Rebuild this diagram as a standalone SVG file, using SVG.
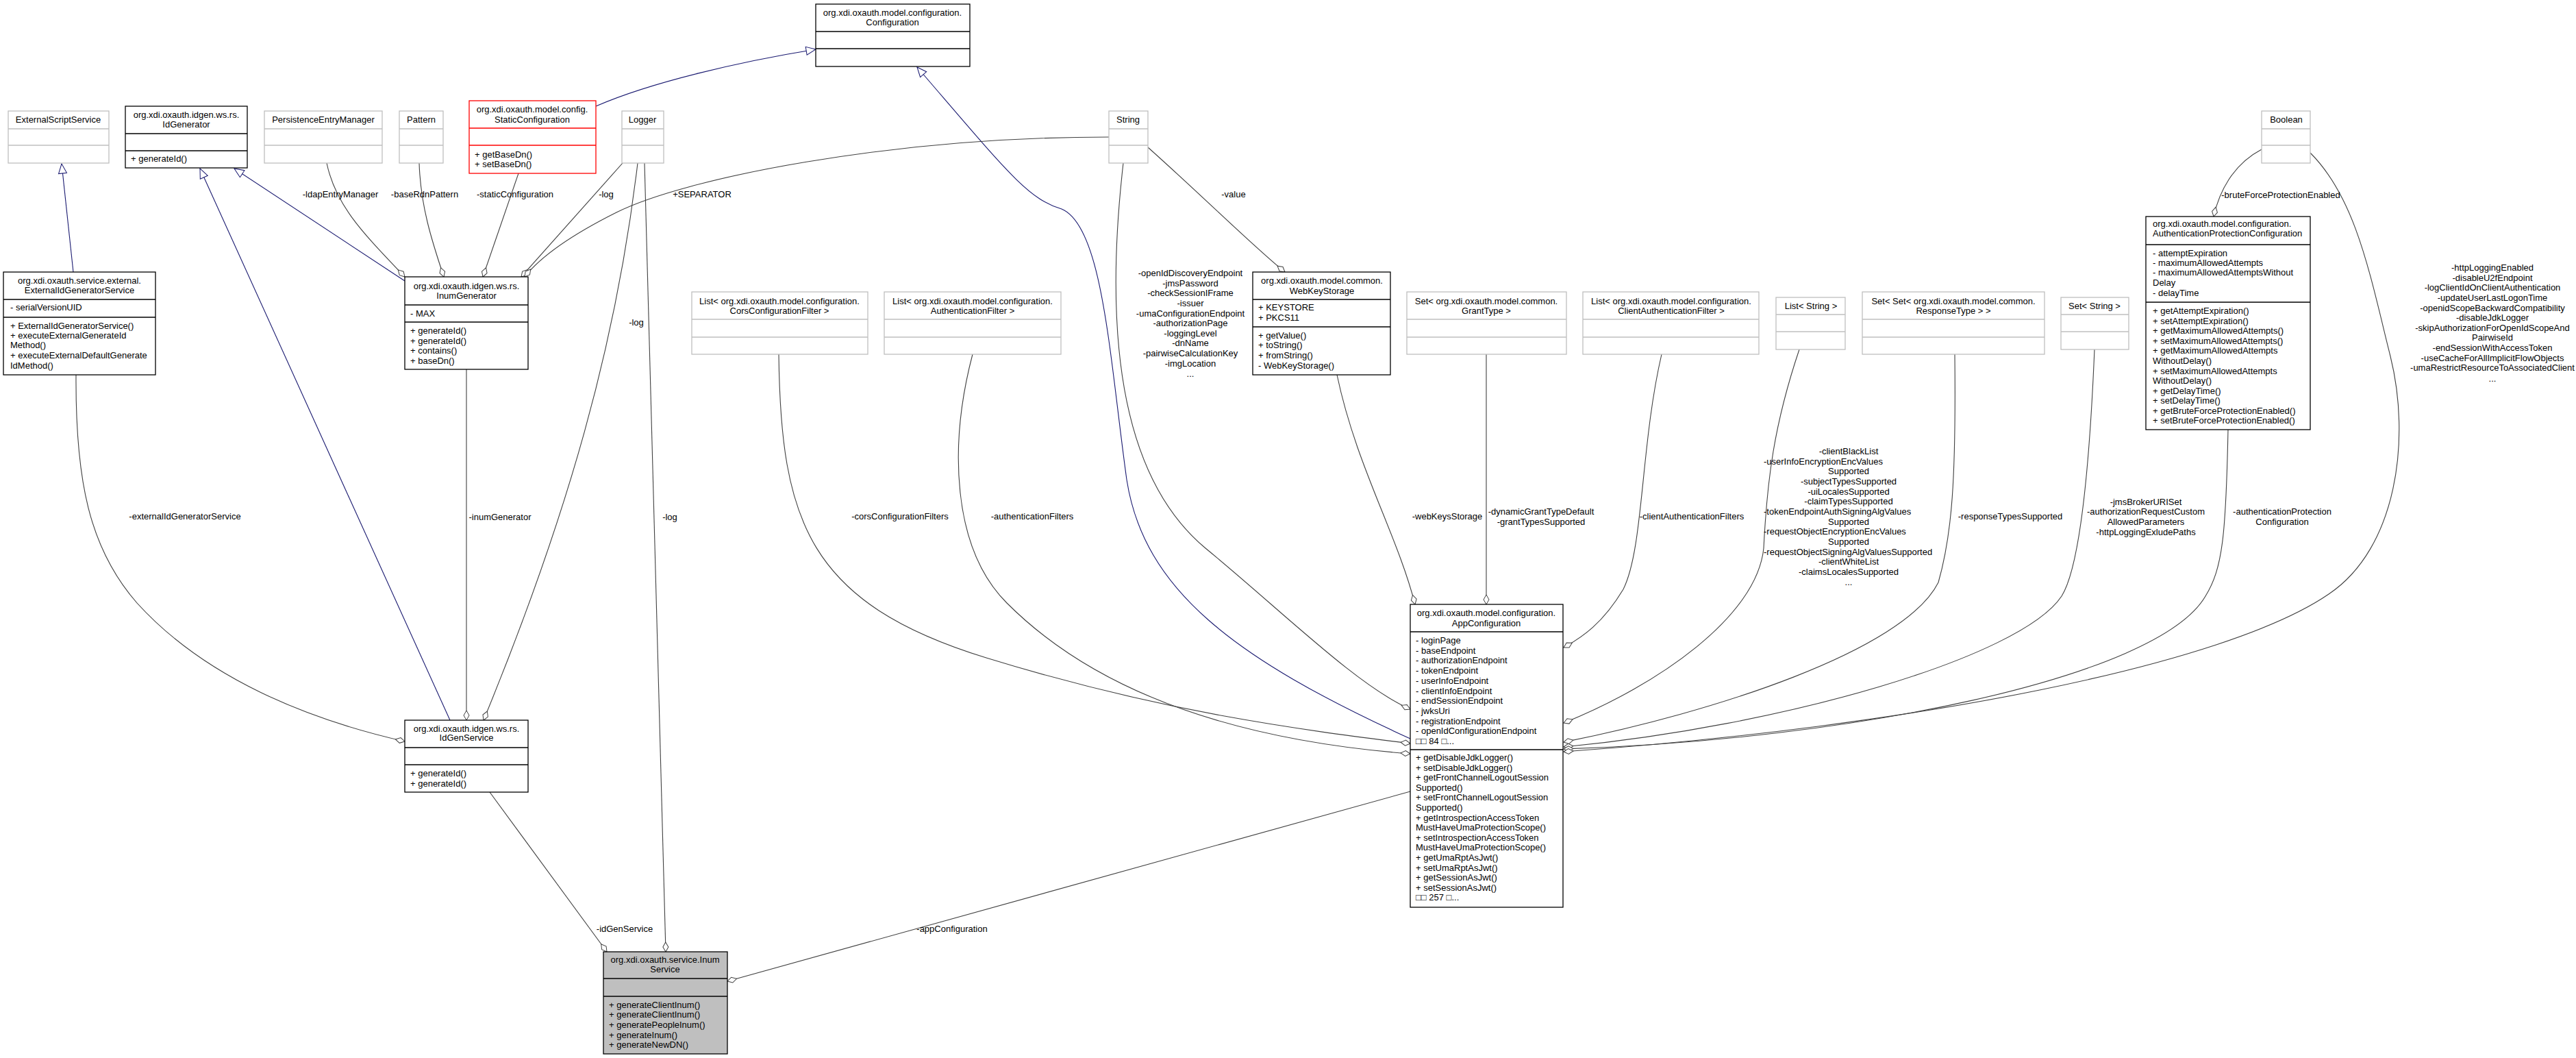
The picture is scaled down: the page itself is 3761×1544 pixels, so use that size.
<svg xmlns="http://www.w3.org/2000/svg" width="3761" height="1544" viewBox="0 0 3761 1544">
<style>
text{font-family:"Liberation Sans",Arial,sans-serif;font-size:13px;fill:#000}
.c{text-anchor:middle}
.b{fill:#fff;stroke:#000;stroke-width:1.3}
.g{fill:#fff;stroke:#bfbfbf;stroke-width:1.3}
.r{fill:#fff;stroke:#ff0000;stroke-width:1.3}
.d{stroke:#000;stroke-width:1.3}
.dg{stroke:#bfbfbf;stroke-width:1.3}
.dr{stroke:#ff0000;stroke-width:1.3}
.e{fill:none;stroke:#404040;stroke-width:1.1;marker-end:url(#dia)}
.i{fill:none;stroke:#191970;stroke-width:1.1;marker-end:url(#tri)}
</style>
<defs>
<marker id="dia" viewBox="-15 -6 16 12" refX="0" refY="0" markerWidth="16" markerHeight="12" markerUnits="userSpaceOnUse" orient="auto"><path d="M0,0 L-7,-4 L-14,0 L-7,4 Z" fill="#fff" stroke="#404040" stroke-width="1"/></marker>
<marker id="tri" viewBox="-15 -8 16 16" refX="0" refY="0" markerWidth="16" markerHeight="16" markerUnits="userSpaceOnUse" orient="auto"><path d="M0,0 L-14,-6 L-14,6 Z" fill="#fff" stroke="#191970" stroke-width="1"/></marker>
</defs>
<rect width="3761" height="1544" fill="#fff"/>
<g id="connectors">
<path class="i" d="M107,397 L90,239"/>
<path class="i" d="M657,1051 L292,246"/>
<path class="i" d="M591,410 L342,246"/>
<path class="i" d="M870,155 C950,120 1080,90 1191,72"/>
<path class="i" d="M2059,1078 C1800,960 1670,860 1645,700 C1620,520 1610,330 1550,305 C1500,290 1470,250 1339,98"/>
<path class="e" d="M477,238 C490,300 530,340 591,404"/>
<path class="e" d="M612,238 C614,300 630,350 648,404"/>
<path class="e" d="M757,253 L705,404"/>
<path class="e" d="M909,238 L761,404"/>
<path class="e" d="M1619,200 C1300,200 1000,260 900,310 C820,350 785,380 766,404"/>
<path class="e" d="M931,238 C900,500 830,750 706,1051"/>
<path class="e" d="M941,238 C950,500 962,900 972,1389"/>
<path class="e" d="M681,539 L681,1051"/>
<path class="e" d="M111,547 C110,700 130,800 200,880 C300,990 450,1050 591,1082"/>
<path class="e" d="M715,1156 L886,1389"/>
<path class="e" d="M2059,1155 L1062,1432"/>
<path class="e" d="M1676,215 C1760,290 1830,360 1876,397"/>
<path class="e" d="M1640,238 C1610,500 1640,700 1760,800 C1870,890 1980,1000 2059,1035"/>
<path class="e" d="M1137,517 C1140,760 1180,880 1440,960 C1700,1040 1900,1065 2059,1085"/>
<path class="e" d="M1420,517 C1385,650 1390,800 1470,880 C1600,1010 1800,1080 2059,1100"/>
<path class="e" d="M1952,547 C1980,680 2040,780 2066,882"/>
<path class="e" d="M2170,517 L2170,882"/>
<path class="e" d="M2426,517 C2395,650 2400,800 2370,860 C2340,910 2310,930 2283,945"/>
<path class="e" d="M2627,510 C2590,620 2580,700 2575,800 C2565,900 2420,1000 2283,1055"/>
<path class="e" d="M2854,517 C2856,700 2850,780 2830,850 C2780,950 2500,1040 2283,1083"/>
<path class="e" d="M3058,510 C3050,700 3035,830 3010,870 C2950,960 2600,1060 2283,1090"/>
<path class="e" d="M3253,627 C3250,780 3245,830 3220,870 C3150,990 2700,1080 2283,1093"/>
<path class="e" d="M3373,223 C3440,290 3460,400 3490,520 C3520,640 3500,800 3400,867 C3250,970 2800,1060 2283,1097"/>
<path class="e" d="M3302,218 C3260,240 3240,280 3232,316"/>
<text x="497" y="288" class="c">-ldapEntryManager</text>
<text x="620" y="288" class="c">-baseRdnPattern</text>
<text x="752" y="288" class="c">-staticConfiguration</text>
<text x="885" y="288" class="c">-log</text>
<text x="1025" y="288" class="c">+SEPARATOR</text>
<text x="929" y="475" class="c">-log</text>
<text x="978" y="759" class="c">-log</text>
<text x="730" y="759" class="c">-inumGenerator</text>
<text x="270" y="758" class="c">-externalIdGeneratorService</text>
<text x="912" y="1360" class="c">-idGenService</text>
<text x="1390" y="1360" class="c">-appConfiguration</text>
<text x="1801" y="288" class="c">-value</text>
<text x="1314" y="758" class="c">-corsConfigurationFilters</text>
<text x="1507" y="758" class="c">-authenticationFilters</text>
<text x="2113" y="758" class="c">-webKeysStorage</text>
<text x="2250" y="751" class="c">-dynamicGrantTypeDefault</text>
<text x="2250" y="766" class="c">-grantTypesSupported</text>
<text x="2470" y="758" class="c">-clientAuthenticationFilters</text>
<text x="2935" y="758" class="c">-responseTypesSupported</text>
<text x="3332" y="751" class="c">-authenticationProtection</text>
<text x="3332" y="766" class="c">Configuration</text>
<text x="3330" y="289" class="c">-bruteForceProtectionEnabled</text>
<g class="c">
<text x="1738" y="403">-openIdDiscoveryEndpoint</text>
<text x="1738" y="418">-jmsPassword</text>
<text x="1738" y="432">-checkSessionIFrame</text>
<text x="1738" y="447">-issuer</text>
<text x="1738" y="462">-umaConfigurationEndpoint</text>
<text x="1738" y="476">-authorizationPage</text>
<text x="1738" y="491">-loggingLevel</text>
<text x="1738" y="505">-dnName</text>
<text x="1738" y="520">-pairwiseCalculationKey</text>
<text x="1738" y="535">-imgLocation</text>
<text x="1738" y="550">...</text>
</g>
<g>
<text x="2699" y="663" class="c">-clientBlackList</text>
<text x="2575" y="678">-userInfoEncryptionEncValues</text>
<text x="2699" y="692" class="c">Supported</text>
<text x="2699" y="707" class="c">-subjectTypesSupported</text>
<text x="2699" y="722" class="c">-uiLocalesSupported</text>
<text x="2699" y="736" class="c">-claimTypesSupported</text>
<text x="2575" y="751">-tokenEndpointAuthSigningAlgValues</text>
<text x="2699" y="766" class="c">Supported</text>
<text x="2575" y="780">-requestObjectEncryptionEncValues</text>
<text x="2699" y="795" class="c">Supported</text>
<text x="2575" y="810">-requestObjectSigningAlgValuesSupported</text>
<text x="2699" y="824" class="c">-clientWhiteList</text>
<text x="2699" y="839" class="c">-claimsLocalesSupported</text>
<text x="2699" y="854" class="c">...</text>
</g>
<g class="c">
<text x="3133" y="737">-jmsBrokerURISet</text>
<text x="3133" y="751">-authorizationRequestCustom</text>
<text x="3133" y="766">AllowedParameters</text>
<text x="3133" y="781">-httpLoggingExludePaths</text>
</g>
<g class="c">
<text x="3639" y="395">-httpLoggingEnabled</text>
<text x="3639" y="410">-disableU2fEndpoint</text>
<text x="3639" y="424">-logClientIdOnClientAuthentication</text>
<text x="3639" y="439">-updateUserLastLogonTime</text>
<text x="3639" y="454">-openidScopeBackwardCompatibility</text>
<text x="3639" y="468">-disableJdkLogger</text>
<text x="3639" y="483">-skipAuthorizationForOpenIdScopeAnd</text>
<text x="3639" y="497">PairwiseId</text>
<text x="3639" y="512">-endSessionWithAccessToken</text>
<text x="3639" y="527">-useCacheForAllImplicitFlowObjects</text>
<text x="3639" y="541">-umaRestrictResourceToAssociatedClient</text>
<text x="3639" y="557">...</text>
</g>
</g>
<g id="ExternalScriptService"><rect class="g" x="12" y="162" width="147" height="76"/><line class="dg" x1="12" y1="188" x2="159" y2="188"/><line class="dg" x1="12" y1="212" x2="159" y2="212"/><text x="85" y="179" class="c">ExternalScriptService</text></g>
<g id="IdGenerator"><rect class="b" x="183" y="155" width="178" height="90"/><line class="d" x1="183" y1="195" x2="361" y2="195"/><line class="d" x1="183" y1="220" x2="361" y2="220"/><text x="272" y="172" class="c">org.xdi.oxauth.idgen.ws.rs.</text><text x="272" y="186" class="c">IdGenerator</text><text x="191" y="236">+ generateId()</text></g>
<g id="PersistenceEntryManager"><rect class="g" x="386" y="162" width="172" height="76"/><line class="dg" x1="386" y1="188" x2="558" y2="188"/><line class="dg" x1="386" y1="212" x2="558" y2="212"/><text x="472" y="179" class="c">PersistenceEntryManager</text></g>
<g id="Pattern"><rect class="g" x="583" y="162" width="64" height="76"/><line class="dg" x1="583" y1="188" x2="647" y2="188"/><line class="dg" x1="583" y1="212" x2="647" y2="212"/><text x="615" y="179" class="c">Pattern</text></g>
<g id="StaticConfiguration"><rect class="r" x="685" y="147" width="185" height="106"/><line class="dr" x1="685" y1="187" x2="870" y2="187"/><line class="dr" x1="685" y1="212" x2="870" y2="212"/><text x="777" y="164" class="c">org.xdi.oxauth.model.config.</text><text x="777" y="179" class="c">StaticConfiguration</text><text x="693" y="230">+ getBaseDn()</text><text x="693" y="244">+ setBaseDn()</text></g>
<g id="Logger"><rect class="g" x="908" y="162" width="61" height="76"/><line class="dg" x1="908" y1="188" x2="969" y2="188"/><line class="dg" x1="908" y1="212" x2="969" y2="212"/><text x="938" y="179" class="c">Logger</text></g>
<g id="Configuration"><rect class="b" x="1191" y="6" width="225" height="91"/><line class="d" x1="1191" y1="46" x2="1416" y2="46"/><line class="d" x1="1191" y1="71" x2="1416" y2="71"/><text x="1303" y="23" class="c">org.xdi.oxauth.model.configuration.</text><text x="1303" y="37" class="c">Configuration</text></g>
<g id="String"><rect class="g" x="1619" y="162" width="57" height="76"/><line class="dg" x1="1619" y1="188" x2="1676" y2="188"/><line class="dg" x1="1619" y1="212" x2="1676" y2="212"/><text x="1647" y="179" class="c">String</text></g>
<g id="ExternalIdGeneratorService"><rect class="b" x="5" y="397" width="222" height="150"/><line class="d" x1="5" y1="437" x2="227" y2="437"/><line class="d" x1="5" y1="463" x2="227" y2="463"/><text x="116" y="414" class="c">org.xdi.oxauth.service.external.</text><text x="116" y="428" class="c">ExternalIdGeneratorService</text><text x="15" y="453">- serialVersionUID</text><text x="15" y="480">+ ExternalIdGeneratorService()</text><text x="15" y="494">+ executeExternalGenerateId</text><text x="15" y="508">Method()</text><text x="15" y="523">+ executeExternalDefaultGenerate</text><text x="15" y="538">IdMethod()</text></g>
<g id="InumGenerator"><rect class="b" x="591" y="404" width="180" height="135"/><line class="d" x1="591" y1="445" x2="771" y2="445"/><line class="d" x1="591" y1="470" x2="771" y2="470"/><text x="681" y="422" class="c">org.xdi.oxauth.idgen.ws.rs.</text><text x="681" y="436" class="c">InumGenerator</text><text x="599" y="462">- MAX</text><text x="599" y="487">+ generateId()</text><text x="599" y="502">+ generateId()</text><text x="599" y="516">+ contains()</text><text x="599" y="531">+ baseDn()</text></g>
<g id="IdGenService"><rect class="b" x="591" y="1051" width="180" height="105"/><line class="d" x1="591" y1="1091" x2="771" y2="1091"/><line class="d" x1="591" y1="1116" x2="771" y2="1116"/><text x="681" y="1068" class="c">org.xdi.oxauth.idgen.ws.rs.</text><text x="681" y="1081" class="c">IdGenService</text><text x="599" y="1133">+ generateId()</text><text x="599" y="1148">+ generateId()</text></g>
<g id="InumService"><rect x="881" y="1389" width="181" height="149" fill="#bfbfbf" stroke="#000" stroke-width="1.3"/><line class="d" x1="881" y1="1428" x2="1062" y2="1428"/><line class="d" x1="881" y1="1454" x2="1062" y2="1454"/><text x="971" y="1405" class="c">org.xdi.oxauth.service.Inum</text><text x="971" y="1419" class="c">Service</text><text x="889" y="1471">+ generateClientInum()</text><text x="889" y="1485">+ generateClientInum()</text><text x="889" y="1500">+ generatePeopleInum()</text><text x="889" y="1515">+ generateInum()</text><text x="889" y="1529">+ generateNewDN()</text></g>
<g id="CorsConfigurationFilterList"><rect class="g" x="1010" y="426" width="257" height="91"/><line class="dg" x1="1010" y1="466" x2="1267" y2="466"/><line class="dg" x1="1010" y1="492" x2="1267" y2="492"/><text x="1138" y="444" class="c">List&lt; org.xdi.oxauth.model.configuration.</text><text x="1138" y="458" class="c">CorsConfigurationFilter &gt;</text></g>
<g id="AuthenticationFilterList"><rect class="g" x="1291" y="426" width="258" height="91"/><line class="dg" x1="1291" y1="466" x2="1549" y2="466"/><line class="dg" x1="1291" y1="492" x2="1549" y2="492"/><text x="1420" y="444" class="c">List&lt; org.xdi.oxauth.model.configuration.</text><text x="1420" y="458" class="c">AuthenticationFilter &gt;</text></g>
<g id="WebKeyStorage"><rect class="b" x="1829" y="397" width="201" height="150"/><line class="d" x1="1829" y1="437" x2="2030" y2="437"/><line class="d" x1="1829" y1="477" x2="2030" y2="477"/><text x="1930" y="414" class="c">org.xdi.oxauth.model.common.</text><text x="1930" y="429" class="c">WebKeyStorage</text><text x="1837" y="453">+ KEYSTORE</text><text x="1837" y="468">+ PKCS11</text><text x="1837" y="494">+ getValue()</text><text x="1837" y="508">+ toString()</text><text x="1837" y="523">+ fromString()</text><text x="1837" y="538">- WebKeyStorage()</text></g>
<g id="GrantTypeSet"><rect class="g" x="2054" y="426" width="233" height="91"/><line class="dg" x1="2054" y1="466" x2="2287" y2="466"/><line class="dg" x1="2054" y1="492" x2="2287" y2="492"/><text x="2170" y="444" class="c">Set&lt; org.xdi.oxauth.model.common.</text><text x="2170" y="458" class="c">GrantType &gt;</text></g>
<g id="ClientAuthenticationFilterList"><rect class="g" x="2311" y="426" width="257" height="91"/><line class="dg" x1="2311" y1="466" x2="2568" y2="466"/><line class="dg" x1="2311" y1="492" x2="2568" y2="492"/><text x="2440" y="444" class="c">List&lt; org.xdi.oxauth.model.configuration.</text><text x="2440" y="458" class="c">ClientAuthenticationFilter &gt;</text></g>
<g id="ListString"><rect class="g" x="2593" y="434" width="101" height="76"/><line class="dg" x1="2593" y1="459" x2="2694" y2="459"/><line class="dg" x1="2593" y1="484" x2="2694" y2="484"/><text x="2644" y="451" class="c">List&lt; String &gt;</text></g>
<g id="ResponseTypeSetSet"><rect class="g" x="2719" y="426" width="266" height="91"/><line class="dg" x1="2719" y1="466" x2="2985" y2="466"/><line class="dg" x1="2719" y1="492" x2="2985" y2="492"/><text x="2852" y="444" class="c">Set&lt; Set&lt; org.xdi.oxauth.model.common.</text><text x="2852" y="458" class="c">ResponseType &gt; &gt;</text></g>
<g id="SetString"><rect class="g" x="3009" y="434" width="99" height="76"/><line class="dg" x1="3009" y1="459" x2="3108" y2="459"/><line class="dg" x1="3009" y1="484" x2="3108" y2="484"/><text x="3058" y="451" class="c">Set&lt; String &gt;</text></g>
<g id="Boolean"><rect class="g" x="3302" y="162" width="71" height="76"/><line class="dg" x1="3302" y1="188" x2="3373" y2="188"/><line class="dg" x1="3302" y1="212" x2="3373" y2="212"/><text x="3338" y="179" class="c">Boolean</text></g>
<g id="AuthenticationProtectionConfiguration"><rect class="b" x="3133" y="316" width="240" height="311"/><line class="d" x1="3133" y1="357" x2="3373" y2="357"/><line class="d" x1="3133" y1="441" x2="3373" y2="441"/>
<text x="3143" y="331">org.xdi.oxauth.model.configuration.</text><text x="3143" y="345">AuthenticationProtectionConfiguration</text>
<text x="3143" y="374">- attemptExpiration</text><text x="3143" y="388">- maximumAllowedAttempts</text><text x="3143" y="402">- maximumAllowedAttemptsWithout</text><text x="3143" y="417">Delay</text><text x="3143" y="432">- delayTime</text>
<text x="3143" y="458">+ getAttemptExpiration()</text><text x="3143" y="472.5">+ setAttemptExpiration()</text><text x="3143" y="487">+ getMaximumAllowedAttempts()</text><text x="3143" y="501.5">+ setMaximumAllowedAttempts()</text><text x="3143" y="516">+ getMaximumAllowedAttempts</text><text x="3143" y="531">WithoutDelay()</text><text x="3143" y="545.5">+ setMaximumAllowedAttempts</text><text x="3143" y="560">WithoutDelay()</text><text x="3143" y="574.5">+ getDelayTime()</text><text x="3143" y="589">+ setDelayTime()</text><text x="3143" y="603.5">+ getBruteForceProtectionEnabled()</text><text x="3143" y="618">+ setBruteForceProtectionEnabled()</text></g>
<g id="AppConfiguration"><rect class="b" x="2059" y="882" width="223" height="442"/><line class="d" x1="2059" y1="922" x2="2282" y2="922"/><line class="d" x1="2059" y1="1094" x2="2282" y2="1094"/>
<text x="2170" y="899" class="c">org.xdi.oxauth.model.configuration.</text><text x="2170" y="914" class="c">AppConfiguration</text>
<text x="2067" y="939">- loginPage</text><text x="2067" y="953.7">- baseEndpoint</text><text x="2067" y="968.4">- authorizationEndpoint</text><text x="2067" y="983.1">- tokenEndpoint</text><text x="2067" y="997.8">- userInfoEndpoint</text><text x="2067" y="1012.5">- clientInfoEndpoint</text><text x="2067" y="1027.2">- endSessionEndpoint</text><text x="2067" y="1041.9">- jwksUri</text><text x="2067" y="1056.6">- registrationEndpoint</text><text x="2067" y="1071.3">- openIdConfigurationEndpoint</text><text x="2067" y="1086">□□ 84 □...</text>
<text x="2067" y="1110">+ getDisableJdkLogger()</text><text x="2067" y="1124.6">+ setDisableJdkLogger()</text><text x="2067" y="1139.2">+ getFrontChannelLogoutSession</text><text x="2067" y="1153.8">Supported()</text><text x="2067" y="1168.4">+ setFrontChannelLogoutSession</text><text x="2067" y="1183">Supported()</text><text x="2067" y="1197.6">+ getIntrospectionAccessToken</text><text x="2067" y="1212.2">MustHaveUmaProtectionScope()</text><text x="2067" y="1226.8">+ setIntrospectionAccessToken</text><text x="2067" y="1241.4">MustHaveUmaProtectionScope()</text><text x="2067" y="1256">+ getUmaRptAsJwt()</text><text x="2067" y="1270.6">+ setUmaRptAsJwt()</text><text x="2067" y="1285.2">+ getSessionAsJwt()</text><text x="2067" y="1299.8">+ setSessionAsJwt()</text><text x="2067" y="1314.4">□□ 257 □...</text></g>
</svg>
